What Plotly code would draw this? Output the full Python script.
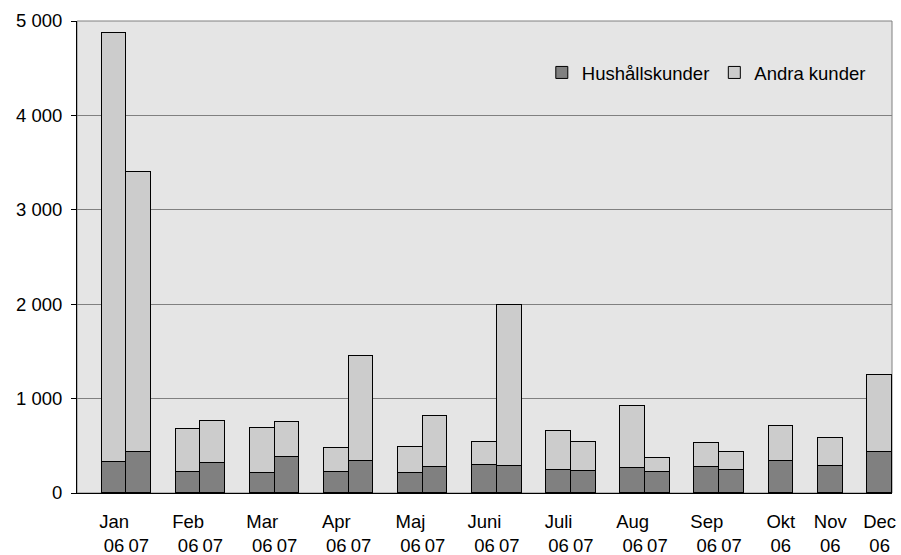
import plotly.graph_objects as go

months = ["Jan", "Feb", "Mar", "Apr", "Maj", "Juni", "Juli", "Aug", "Sep", "Okt", "Nov", "Dec"]
hush_06 = [325, 226, 208, 226, 212, 293, 240, 265, 279, 342, 286, 431]
andra_06 = [4551, 449, 484, 251, 275, 244, 417, 660, 247, 368, 297, 816]
hush_07 = [434, 321, 385, 342, 275, 283, 230, 219, 240]
andra_07 = [2963, 442, 370, 1109, 544, 1709, 314, 152, 194]
year_labels = ["06", "07"]
y_ticks = [0, 1000, 2000, 3000, 4000, 5000]

# Build category slots: a spacer before each month, then the month's bars
cats, xs, hh, an, tickvals, ticktext = [], [], [], [], [], []
for i, m in enumerate(months):
    cats.append(f"gap{i}")
    series = [(year_labels[0], hush_06[i], andra_06[i])]
    if i < len(hush_07):
        series.append((year_labels[1], hush_07[i], andra_07[i]))
    for j, (yr, h, a) in enumerate(series):
        c = f"{m} {yr}"
        cats.append(c)
        xs.append(c)
        hh.append(h)
        an.append(a)
        tickvals.append(c)
        ticktext.append(f"{m}<br>{yr}" if j == 0 else f" <br>{yr}")

fig = go.Figure()
fig.add_trace(go.Bar(x=xs, y=hh, name="Hushållskunder",
                     marker=dict(color="#808080", line=dict(color="#000000", width=1))))
fig.add_trace(go.Bar(x=xs, y=an, name="Andra kunder",
                     marker=dict(color="#cccccc", line=dict(color="#000000", width=1))))

fig.update_layout(
    width=901, height=555,
    barmode="stack", bargap=0,
    separators=", ",
    paper_bgcolor="white", plot_bgcolor="#e5e5e5",
    margin=dict(l=77, r=9, t=21, b=62, autoexpand=False),
    font=dict(family="Liberation Sans, Arial, sans-serif", size=18.5, color="black"),
    showlegend=True,
    legend=dict(orientation="h", x=0.974, xanchor="right", y=0.89, yanchor="middle",
                bgcolor="rgba(0,0,0,0)", font=dict(size=18.5), traceorder="normal"),
    shapes=[dict(type="rect", xref="x domain", yref="y domain", x0=0, x1=1, y0=0, y1=1,
                 line=dict(color="#808080", width=1), layer="below")],
)
fig.update_xaxes(type="category", categoryorder="array", categoryarray=cats,
                 range=[-0.5, len(cats) - 0.5],
                 tickmode="array", tickvals=tickvals, ticktext=ticktext,
                 showline=True, linecolor="black", linewidth=1, ticks="",
                 showgrid=False, tickangle=0, ticklabelstandoff=12, automargin=False)
fig.update_yaxes(range=[0, 5000], tickvals=y_ticks, tickformat=",.0f",
                 showline=True, linecolor="black", linewidth=1,
                 ticks="outside", ticklen=5, tickcolor="black",
                 showgrid=True, gridcolor="#808080", gridwidth=1, zeroline=False,
                 ticklabelstandoff=5, automargin=False)

fig.write_html("out.html", config={"displayModeBar": False},
               post_script="document.body.style.margin='0';document.body.style.overflow='hidden';")
